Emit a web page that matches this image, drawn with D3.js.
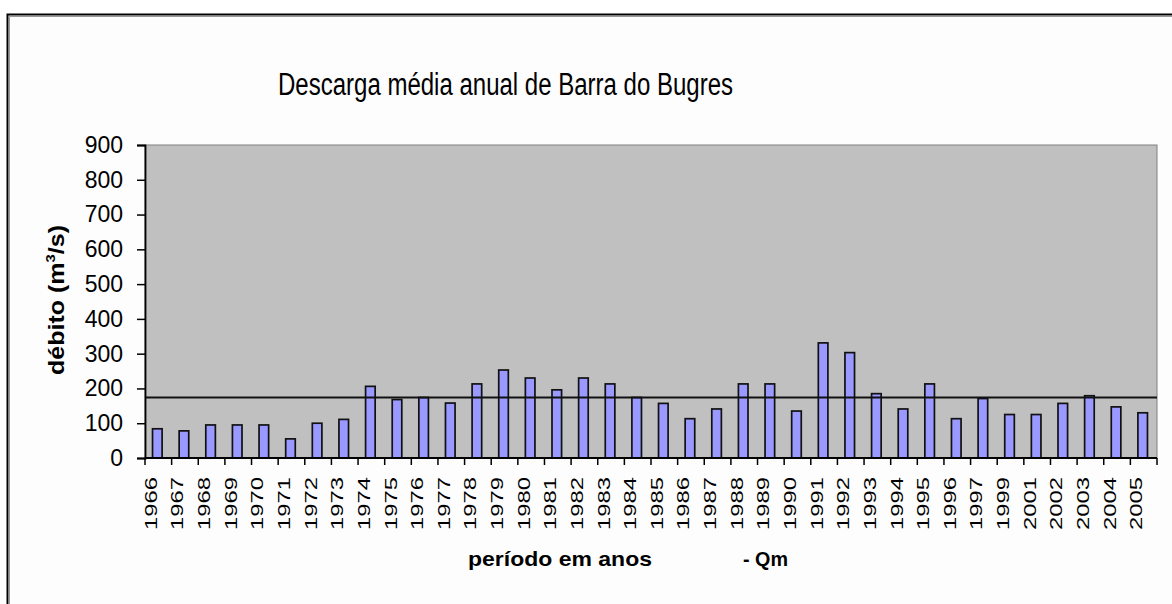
<!DOCTYPE html>
<html>
<head>
<meta charset="utf-8">
<script src="https://cdn.jsdelivr.net/npm/d3@7"></script>
<style>
  body { margin: 0; background: #fff; }
  svg { display: block; font-family: "Liberation Sans", Arial, sans-serif; }
</style>
</head>
<body>
<div id="chart"></div>
<script>
// annual mean discharge, Barra do Bugres
const years = ["1966","1967","1968","1969","1970","1971","1972","1973","1974","1975",
  "1976","1977","1978","1979","1980","1981","1982","1983","1984","1985",
  "1986","1987","1988","1989","1990","1991","1992","1993","1994","1995",
  "1996","1997","1999","2001","2002","2003","2004","2005"];
const discharge = [84, 78, 95, 95, 95, 55, 100, 111, 206, 168,
  174, 158, 213, 253, 230, 196, 230, 213, 174, 157,
  113, 141, 213, 213, 135, 331, 303, 185, 141, 213,
  113, 171, 125, 125, 157, 179, 147, 130];
const meanQm = 174;
const yTicks = [0, 100, 200, 300, 400, 500, 600, 700, 800, 900];

const W = 1172, H = 604;
const plot = { left: 145, top: 145, right: 1157, bottom: 458 };

const svg = d3.select("#chart").append("svg")
    .attr("width", W).attr("height", H);

// outer chart frame
svg.append("rect")
    .attr("x", 7.5).attr("y", 14.5)
    .attr("width", 1300).attr("height", 800)
    .attr("fill", "#fdfdfd")
    .attr("stroke", "#000").attr("stroke-width", 2);
svg.append("path")
    .attr("d", "M9.5,800V16.5H1300")
    .attr("fill", "none").attr("stroke", "#999").attr("stroke-width", 1);

const x = d3.scaleBand()
    .domain(years)
    .range([plot.left, plot.right]);

const y = d3.scaleLinear()
    .domain([0, 900])
    .range([plot.bottom, plot.top]);

// plot area
svg.append("rect")
    .attr("x", plot.left).attr("y", plot.top)
    .attr("width", plot.right - plot.left)
    .attr("height", plot.bottom - plot.top)
    .attr("fill", "#c0c0c0")
    .attr("stroke", "#808080").attr("stroke-width", 1);

// bars
const barW = x.bandwidth() * 0.36;
svg.selectAll(".bar")
    .data(years)
    .enter().append("rect")
    .attr("class", "bar")
    .attr("x", (d, i) => x(d) + x.bandwidth() / 2 - barW / 2 - 1)
    .attr("y", (d, i) => y(discharge[i]))
    .attr("width", barW)
    .attr("height", (d, i) => y(0) - y(discharge[i]))
    .attr("fill", "#9999ff")
    .attr("stroke", "#111").attr("stroke-width", 1.7);

// mean line
svg.append("line")
    .attr("x1", plot.left).attr("x2", plot.right)
    .attr("y1", y(meanQm)).attr("y2", y(meanQm))
    .attr("stroke", "#111").attr("stroke-width", 1.8);

// y axis
const yAxis = svg.append("g")
    .attr("transform", `translate(${plot.left},0)`)
    .call(d3.axisLeft(y).tickValues(yTicks).tickSize(8).tickPadding(14));
yAxis.select(".domain").attr("stroke", "#000").attr("stroke-width", 1.8);
yAxis.selectAll(".tick line").attr("stroke", "#000").attr("stroke-width", 1.5);
yAxis.selectAll(".tick text")
    .attr("font-family", "Liberation Sans, Arial, sans-serif")
    .attr("font-size", 23).attr("fill", "#000");

// x axis: ticks on category boundaries
svg.append("line")
    .attr("x1", plot.left).attr("x2", plot.right)
    .attr("y1", plot.bottom).attr("y2", plot.bottom)
    .attr("stroke", "#000").attr("stroke-width", 1.8);
svg.selectAll(".xtick")
    .data(years.concat(["end"]))
    .enter().append("line")
    .attr("class", "xtick")
    .attr("x1", d => d === "end" ? plot.right : x(d))
    .attr("x2", d => d === "end" ? plot.right : x(d))
    .attr("y1", plot.bottom).attr("y2", plot.bottom + 7)
    .attr("stroke", "#000").attr("stroke-width", 1.5);

svg.selectAll(".xlabel")
    .data(years)
    .enter().append("text")
    .attr("class", "xlabel")
    .attr("transform", d => `translate(${x(d) + x.bandwidth() / 2 - 1.5},477) rotate(-90)`)
    .attr("text-anchor", "end")
    .attr("font-size", 16.5)
    .attr("textLength", 53).attr("lengthAdjust", "spacingAndGlyphs")
    .text(d => d);

// titles
svg.append("text")
    .attr("x", 278).attr("y", 95)
    .attr("font-size", 31)
    .attr("textLength", 455).attr("lengthAdjust", "spacingAndGlyphs")
    .text("Descarga média anual de Barra do Bugres");

const yTitle = svg.append("text")
    .attr("transform", "translate(64,300) rotate(-90)")
    .attr("text-anchor", "middle")
    .attr("font-size", 22).attr("font-weight", "bold")
    .attr("textLength", 150).attr("lengthAdjust", "spacingAndGlyphs");
yTitle.append("tspan").text("débito (m");
yTitle.append("tspan").attr("font-size", 13).attr("dy", -9).text("3");
yTitle.append("tspan").attr("dy", 9).text("/s)");

svg.append("text")
    .attr("x", 468).attr("y", 566)
    .attr("font-size", 21).attr("font-weight", "bold")
    .attr("textLength", 184).attr("lengthAdjust", "spacingAndGlyphs")
    .text("período em anos");

svg.append("text")
    .attr("x", 743).attr("y", 566)
    .attr("font-size", 21).attr("font-weight", "bold")
    .attr("textLength", 45).attr("lengthAdjust", "spacingAndGlyphs")
    .text("- Qm");
</script>
</body>
</html>
